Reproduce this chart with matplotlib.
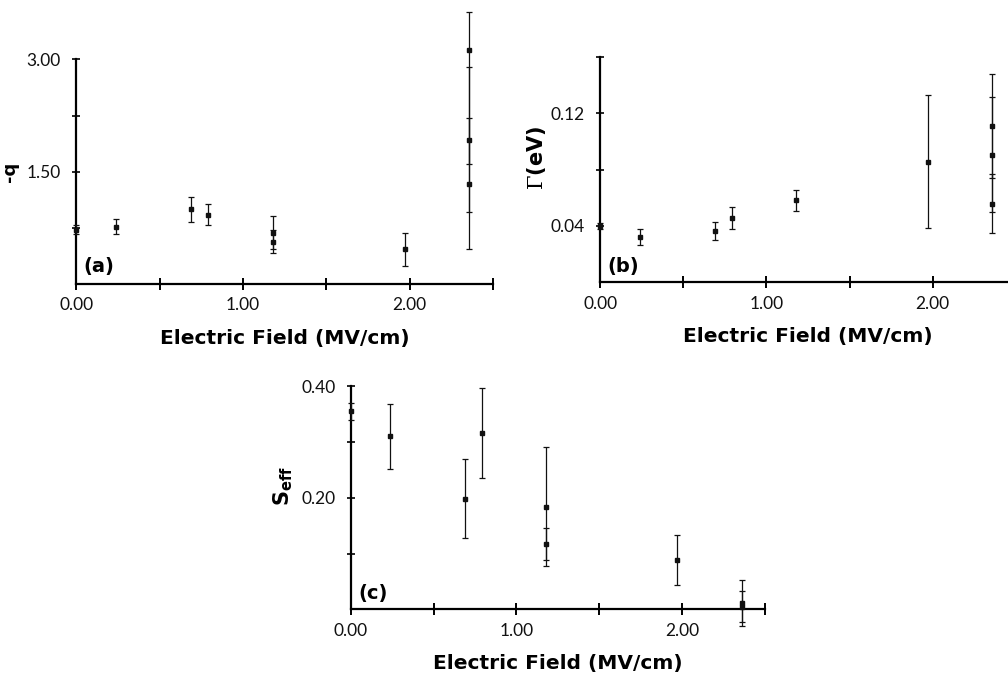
import matplotlib
matplotlib.use("Agg")
import matplotlib.pyplot as plt

plt.rcParams['mathtext.fontset'] = 'custom'
plt.rcParams['mathtext.rm'] = 'DejaVu Serif'
plt.rcParams['mathtext.bf'] = 'DejaVu Sans:bold'

# (a) -q
field_a = [0.0, 0.24, 0.69, 0.79, 1.18, 1.18, 1.97, 2.36, 2.36, 2.36]
q = [0.73, 0.77, 1.00, 0.93, 0.69, 0.57, 0.47, 3.12, 1.93, 1.34]
q_err_lo = [0.06, 0.10, 0.17, 0.145, 0.225, 0.15, 0.22, 1.51, 0.97, 0.875]
q_err_hi = [0.06, 0.10, 0.17, 0.145, 0.225, 0.15, 0.22, 0.51, 0.97, 0.875]

# (b) Gamma (eV)
field_b = [0.0, 0.24, 0.69, 0.79, 1.18, 1.97, 2.36, 2.36, 2.36]
gamma = [0.040, 0.0322, 0.0364, 0.0456, 0.0581, 0.0856, 0.111, 0.0906, 0.0558]
gamma_err = [0.002, 0.0055, 0.0066, 0.0078, 0.0077, 0.047, 0.037, 0.041, 0.021]

# (c) S_eff
field_c = [0.0, 0.24, 0.69, 0.79, 1.18, 1.18, 1.97, 2.36, 2.36]
seff = [0.355, 0.310, 0.198, 0.316, 0.184, 0.117, 0.088, 0.012, 0.005]
seff_err = [0.015, 0.058, 0.071, 0.081, 0.106, 0.029, 0.045, 0.041, 0.028]

x_ticks = [0.0, 0.5, 1.0, 1.5, 2.0, 2.5]
x_labels = ["0.00", "", "1.00", "", "2.00", ""]

tick_font = {'family': ['Lato', 'DejaVu Sans'], 'weight': 'normal',
             'size': 12.5, 'color': '#111111'}


def setup(ax, ylim, yticks, ylabels, ylabel, ylabel_size, tag, tag_y):
    ax.set_xlim(0, 2.5)
    ax.set_ylim(*ylim)
    for s in ['top', 'right']:
        ax.spines[s].set_visible(False)
    for s in ['left', 'bottom']:
        ax.spines[s].set_linewidth(1.6)
    ax.set_xticks(x_ticks)
    ax.set_xticklabels(x_labels, fontdict=tick_font)
    ax.set_yticks(yticks)
    ax.set_yticklabels(ylabels, fontdict=tick_font)
    ax.tick_params(direction='inout', length=9, width=1.4, pad=5)
    ax.tick_params(axis='y', length=6, width=1.2, pad=8)
    ax.set_xlabel("Electric Field (MV/cm)", fontsize=14.5, fontweight='bold')
    ax.xaxis.set_label_coords(0.5, -0.2)
    ax.set_ylabel(ylabel, fontsize=ylabel_size, fontweight='bold')
    ax.text(0.018, tag_y, tag, transform=ax.transAxes, fontsize=14,
            fontweight='bold', va='center', ha='left')


def bars(ax, x, y, err):
    ax.errorbar(x, y, yerr=err, fmt='s', color='#111111', ms=3.2,
                elinewidth=0.9, capsize=2.5, capthick=0.9, clip_on=False,
                zorder=3)


fig = plt.figure(figsize=(10.08, 6.73), dpi=100)

ax1 = fig.add_axes([0.0757, 0.5776, 0.4132, 0.3343])
bars(ax1, field_a, q, [q_err_lo, q_err_hi])
setup(ax1, (0, 3.0), [0.75, 1.5, 2.25, 3.0], ["", "1.50", "", "3.00"],
      "-q", 13, "(a)", 0.08)
ax1.yaxis.set_label_coords(-0.138, 0.5)

ax2 = fig.add_axes([0.5955, 0.5805, 0.4122, 0.3352])
bars(ax2, field_b, gamma, gamma_err)
setup(ax2, (0, 0.16), [0.04, 0.08, 0.12, 0.16], ["0.04", "", "0.12", ""],
      r"$\Gamma$(eV)", 15, "(b)", 0.07)
ax2.yaxis.set_label_coords(-0.125, 0.55)

ax3 = fig.add_axes([0.3479, 0.0946, 0.4112, 0.3318])
bars(ax3, field_c, seff, seff_err)
setup(ax3, (0, 0.4), [0.1, 0.2, 0.3, 0.4], ["", "0.20", "", "0.40"],
      r"$\mathbf{S_{eff}}$", 15, "(c)", 0.07)
ax3.yaxis.set_label_coords(-0.135, 0.55)

fig.savefig("out.png", dpi=100)
